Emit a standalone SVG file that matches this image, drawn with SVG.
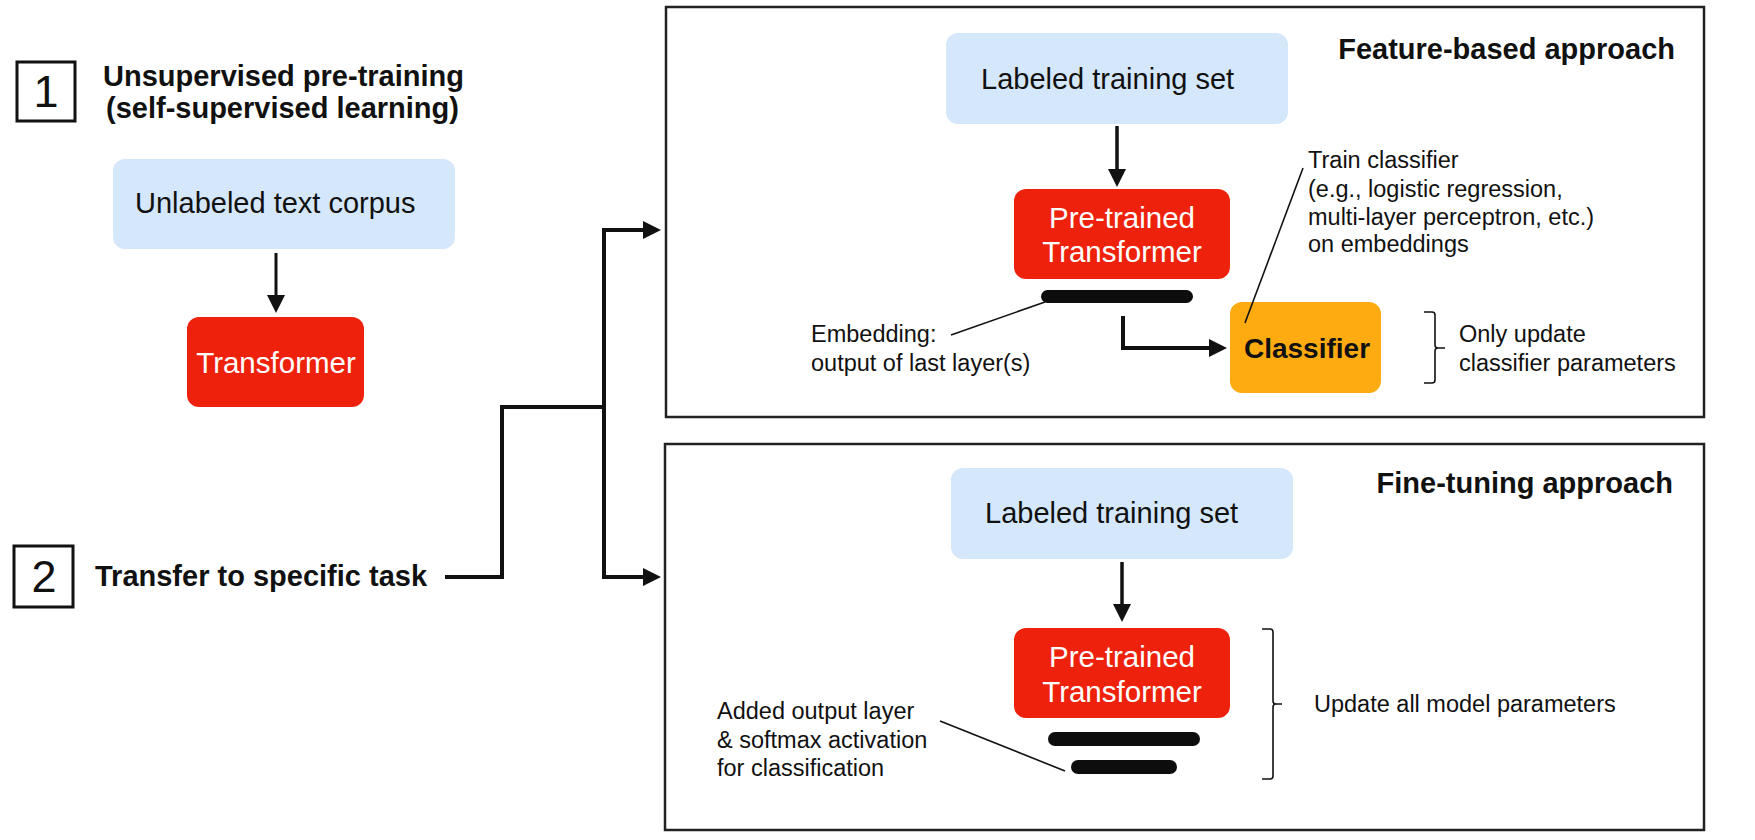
<svg xmlns="http://www.w3.org/2000/svg" width="1755" height="840" viewBox="0 0 1755 840">
<style>
text{font-family:"Liberation Sans",Arial,Helvetica,sans-serif;fill:#111}
.h{font-size:29px;font-weight:bold}
.lbl{font-size:29px}
.w{font-size:29.5px;fill:#fff}
.ann{font-size:23.5px}
.num{font-size:45px;text-anchor:middle}
.blue{fill:#d4e7fb}
.red{fill:#ee220c}
.org{fill:#fdab10}
.panel{fill:none;stroke:#222;stroke-width:2.5}
.sq{fill:none;stroke:#111;stroke-width:3}
.conn{fill:none;stroke:#111;stroke-width:4}
.thin{fill:none;stroke:#111;stroke-width:1.6}
.bar{fill:#0d0d0d}
</style>
<defs>
<marker id="ah" viewBox="0 0 18 18" refX="0" refY="9" markerWidth="18" markerHeight="18" markerUnits="userSpaceOnUse" orient="auto">
<path d="M0,0 L18,9 L0,18 z" fill="#111"/>
</marker>
</defs>
<rect width="1755" height="840" fill="#fff"/>

<g id="step1">
<rect class="sq" x="17" y="62" width="58" height="59"/>
<text class="num" x="46" y="107">1</text>
<text class="h" x="103" y="86">Unsupervised pre-training</text>
<text class="h" x="106" y="118">(self-supervised learning)</text>
</g>
<g id="unlabeled">
<rect class="blue" x="113" y="159" width="342" height="90" rx="12"/>
<text class="lbl" x="135" y="213">Unlabeled text corpus</text>
</g>
<g id="transformer">
<rect class="red" x="187" y="317" width="177" height="90" rx="12"/>
<text class="w" x="276" y="373" text-anchor="middle">Transformer</text>
</g>
<g id="step2">
<rect class="sq" x="14" y="546" width="59" height="61"/>
<text class="num" x="44" y="592">2</text>
<text class="h" x="95" y="586">Transfer to specific task</text>
</g>

<g id="panel-feature">
<rect class="panel" x="666" y="7" width="1038" height="410"/>
<text class="h" x="1675" y="59" text-anchor="end">Feature-based approach</text>
</g>
<g id="labeled-top">
<rect class="blue" x="946" y="33" width="342" height="91" rx="12"/>
<text class="lbl" x="981" y="89">Labeled training set</text>
</g>
<g id="pretrained-top">
<rect class="red" x="1014" y="189" width="216" height="90" rx="12"/>
<text class="w" x="1122" y="228" text-anchor="middle">Pre-trained</text>
<text class="w" x="1122" y="262" text-anchor="middle">Transformer</text>
<rect class="bar" x="1041" y="290" width="152" height="13" rx="6.5"/>
</g>
<g id="embedding-note">
<text class="ann" x="811" y="342">Embedding:</text>
<text class="ann" x="811" y="371">output of last layer(s)</text>
</g>
<g id="classifier">
<rect class="org" x="1230" y="302" width="151" height="91" rx="12"/>
<text x="1307" y="358" text-anchor="middle" style="font-size:28px;font-weight:bold">Classifier</text>
</g>
<g id="train-note">
<text class="ann" x="1308" y="168">Train classifier</text>
<text class="ann" x="1308" y="197">(e.g., logistic regression,</text>
<text class="ann" x="1308" y="225">multi-layer perceptron, etc.)</text>
<text class="ann" x="1308" y="252">on embeddings</text>
</g>
<g id="only-note">
<path class="thin" d="M1424,312 H1432 Q1435,312 1435,315 V345 Q1435,348 1438,348 H1445 M1438,348 Q1435,348 1435,351 V380 Q1435,383 1432,383 H1424"/>
<text class="ann" x="1459" y="342">Only update</text>
<text class="ann" x="1459" y="371">classifier parameters</text>
</g>

<g id="panel-finetune">
<rect class="panel" x="665" y="444" width="1039" height="386"/>
<text class="h" x="1673" y="493" text-anchor="end">Fine-tuning approach</text>
</g>
<g id="labeled-bottom">
<rect class="blue" x="951" y="468" width="342" height="91" rx="12"/>
<text class="lbl" x="985" y="523">Labeled training set</text>
</g>
<g id="pretrained-bottom">
<rect class="red" x="1014" y="628" width="216" height="90" rx="12"/>
<text class="w" x="1122" y="667" text-anchor="middle">Pre-trained</text>
<text class="w" x="1122" y="702" text-anchor="middle">Transformer</text>
<rect class="bar" x="1048" y="732" width="152" height="14" rx="7"/>
<rect class="bar" x="1071" y="760" width="106" height="14" rx="7"/>
</g>
<g id="added-note">
<text class="ann" x="717" y="719">Added output layer</text>
<text class="ann" x="717" y="748">&amp; softmax activation</text>
<text class="ann" x="717" y="776">for classification</text>
</g>
<g id="update-note">
<path class="thin" d="M1262,629 H1270 Q1273,629 1273,632 V701 Q1273,704 1276,704 H1282 M1276,704 Q1273,704 1273,707 V776 Q1273,779 1270,779 H1262"/>
<text class="ann" x="1314" y="712">Update all model parameters</text>
</g>

<g id="connectors">
<path class="conn" style="stroke-width:3" d="M276,253 V295" marker-end="url(#ah)"/>
<path class="conn" d="M445,577 H502 V407 H604"/>
<path class="conn" d="M604,409 V230 H643" marker-end="url(#ah)"/>
<path class="conn" d="M604,405 V577 H643" marker-end="url(#ah)"/>
<path class="conn" style="stroke-width:3.5" d="M1117,126 V169" marker-end="url(#ah)"/>
<path class="conn" d="M1123,316 V348 H1209" marker-end="url(#ah)"/>
<path class="conn" style="stroke-width:3.5" d="M1122,562 V604" marker-end="url(#ah)"/>
<path class="thin" d="M1045,302 L951,335"/>
<path class="thin" d="M1245,323 L1303,168"/>
<path class="thin" d="M940,721 L1065,771"/>
</g>
</svg>
